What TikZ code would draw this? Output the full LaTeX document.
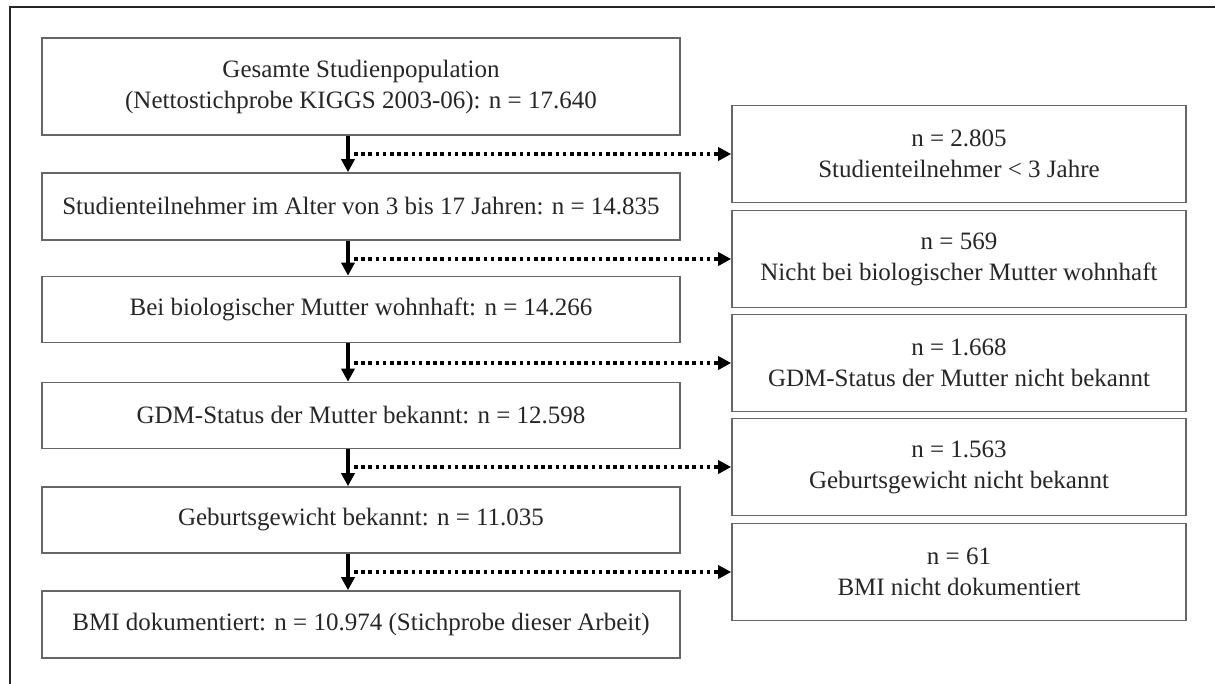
\documentclass[tikz,border=0pt]{standalone}
\usepackage{fontspec}
\setmainfont{Liberation Serif}
\usetikzlibrary{arrows.meta}
\begin{document}
\begin{tikzpicture}[x=0.5pt,y=-0.5pt,
  every node/.style={font=\fontsize{12.5}{15.5}\selectfont, text=black!85, align=center, inner sep=0pt},
  leftbox/.style={draw=black!60, line width=0.8pt, minimum width=319pt},
  rightbox/.style={draw=black!60, line width=0.8pt, minimum width=227pt, minimum height=48.5pt},
  flow/.style={line width=1.7pt, -{Triangle[length=6.5pt,width=6.5pt]}},
  drop/.style={line width=1.8pt, dash pattern=on 1.8pt off 1.8pt, -{Triangle[length=6.5pt,width=6.5pt]}, shorten <=3pt}
]
\useasboundingbox (0,0) rectangle (1215,684);
% outer frame
\draw[line width=1pt, black!85] (10,684) -- (10,7) -- (1215,7);

% main flow
\node[leftbox, minimum height=48.5pt] (b1) at (361,86.5) {Gesamte Studienpopulation\\(Nettostichprobe KIGGS 2003-06): n = 17.640};
\node[leftbox, minimum height=33.5pt] (b2) at (361,206.5) {Studienteilnehmer im Alter von 3 bis 17 Jahren: n = 14.835};
\node[leftbox, minimum height=33pt] (b3) at (361,309.5) {Bei biologischer Mutter wohnhaft: n = 14.266};
\node[leftbox, minimum height=33pt] (b4) at (361,415.5) {GDM-Status der Mutter bekannt: n = 12.598};
\node[leftbox, minimum height=33pt] (b5) at (361,520) {Geburtsgewicht bekannt: n = 11.035};
\node[leftbox, minimum height=33.5pt] (b6) at (361,624.5) {BMI dokumentiert: n = 10.974 (Stichprobe dieser Arbeit)};

% exclusions
\node[rightbox] (r1) at (959,154) {n = 2.805\\Studienteilnehmer < 3 Jahre};
\node[rightbox] (r2) at (959,259) {n = 569\\Nicht bei biologischer Mutter wohnhaft};
\node[rightbox] (r3) at (959,363) {n = 1.668\\GDM-Status der Mutter nicht bekannt};
\node[rightbox] (r4) at (959,467) {n = 1.563\\Geburtsgewicht nicht bekannt};
\node[rightbox] (r5) at (959,572) {n = 61\\BMI nicht dokumentiert};

\coordinate (ax) at (348,0);

\foreach \a/\b/\r in {b1/b2/r1, b2/b3/r2, b3/b4/r3, b4/b5/r4, b5/b6/r5}{
  \draw[flow] (\a.south -| ax) -- (\b.north -| ax);
  \draw[drop] (ax |- \r.west) -- (\r.west);
}
\end{tikzpicture}
\end{document}
